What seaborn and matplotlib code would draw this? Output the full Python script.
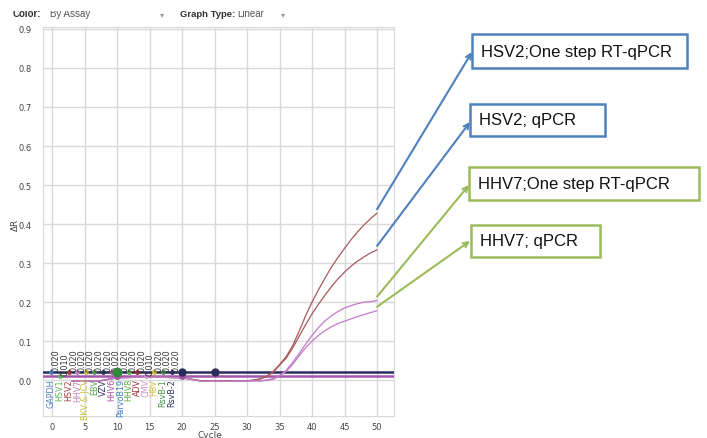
import numpy as np
import pandas as pd
import matplotlib
matplotlib.use('Agg')
import matplotlib.pyplot as plt
from matplotlib.patches import Rectangle
import seaborn as sns

# amplification curves (cycle, delta R)
cycles = [3, 7, 10, 15, 20, 23, 27, 30, 31, 32, 33, 34, 35, 36, 37, 38, 39, 40,
          41, 42, 43, 44, 45, 46, 47, 48, 49, 50]
hsv2_onestep = [-0.003, -0.003, 0.006, 0.008, 0.006, -0.002, -0.002, -0.002, 0.0, 0.003,
                0.01, 0.022, 0.04, 0.06, 0.088, 0.125, 0.165, 0.2,
                0.232, 0.262, 0.29, 0.315, 0.338, 0.36, 0.38, 0.398, 0.414, 0.428]
hsv2_qpcr = [-0.003, -0.003, 0.006, 0.008, 0.006, -0.002, -0.002, -0.002, 0.0, 0.003,
             0.009, 0.02, 0.038, 0.056, 0.082, 0.112, 0.142, 0.17,
             0.195, 0.218, 0.24, 0.26, 0.277, 0.292, 0.305, 0.316, 0.326, 0.334]
hhv7_onestep = [-0.003, -0.003, 0.006, 0.008, 0.006, -0.003, -0.003, -0.002, -0.002, -0.002,
                0.0, 0.004, 0.012, 0.025, 0.045, 0.068, 0.092, 0.115,
                0.135, 0.152, 0.165, 0.176, 0.185, 0.191, 0.196, 0.2, 0.201, 0.204]
hhv7_qpcr = [-0.003, -0.003, 0.006, 0.008, 0.006, -0.003, -0.003, -0.002, -0.002, -0.002,
             -0.001, 0.002, 0.01, 0.022, 0.04, 0.062, 0.083, 0.1,
             0.115, 0.127, 0.137, 0.145, 0.151, 0.157, 0.163, 0.168, 0.173, 0.178]
curve_names = ['HSV2;One step RT-qPCR', 'HSV2; qPCR', 'HHV7;One step RT-qPCR', 'HHV7; qPCR']
curve_colors = ['#a85a5a', '#a85a5a', '#c27ac8', '#c27ac8']
box_colors = ['#4f81bd', '#4f81bd', '#9bbb59', '#9bbb59']

# assay thresholds
assays = ['GAPDH', 'HSV1', 'HSV2', 'HHV7', 'BKV & JCV', 'EBV', 'VZV', 'HHV6',
          'ParvoB19', 'HHV8', 'ADV', 'CMV', 'HBV', 'RsvB-1', 'RsvB-2']
thresholds = [0.020, 0.010, 0.020, 0.020, 0.020, 0.020, 0.020, 0.020,
              0.020, 0.020, 0.020, 0.010, 0.020, 0.020, 0.020]
assay_colors = ['#4a7fc0', '#5cb85c', '#a04040', '#c080c0', '#c8c040', '#50a050',
                '#303060', '#b050a0', '#3a80c8', '#60b040', '#a03030', '#d090d0',
                '#d0c040', '#40904a', '#303068']
assay_pos = [-0.1, 1.25, 2.6, 3.9, 5.2, 6.5, 7.85, 9.15, 10.5, 11.8, 13.1, 14.4, 15.7, 17.05, 18.4]

df = pd.DataFrame({
    'Cycle': cycles * 4,
    'dR': hsv2_onestep + hsv2_qpcr + hhv7_onestep + hhv7_qpcr,
    'curve': sum([[n] * len(cycles) for n in curve_names], []),
})

sns.set_style('white')
plt.rcParams['font.family'] = ['DejaVu Sans']

W, H = 707, 439
fig = plt.figure(figsize=(W / 100, H / 100), dpi=100)
ax = fig.add_axes([43 / W, 1 - 417 / H, (394 - 43) / W, (417 - 28) / H])

# thresholds
ax.axhline(0.020, color='#2c2c5c', lw=1.8, zorder=3)
ax.axhline(0.010, color='#a456ac', lw=1.8, zorder=3)

sns.lineplot(data=df, x='Cycle', y='dR', hue='curve', palette=dict(zip(curve_names, curve_colors)),
             lw=0.9, legend=False, ax=ax, zorder=4)

for name, thr, col, xp in zip(assays, thresholds, assay_colors, assay_pos):
    ax.plot(xp, thr, marker='o', ms=2.5, color=col, zorder=5)
    ax.text(xp, 0.005, name, rotation=90, ha='center', va='top', fontsize=5.8, color=col, zorder=6)
    ax.text(xp + 0.7, thr + 0.004, f'{thr:.3f}', rotation=90, ha='center', va='bottom',
            fontsize=5.8, color='#333333', zorder=6)

ax.plot(10, 0.020, 'o', ms=6, color='#2e8b3a', zorder=6)
ax.plot([20, 25], [0.020, 0.020], 'o', ms=5, color='#2c2c5c', zorder=6)
ax.plot([10, 20], [0.010, 0.010], 'o', ms=4, color='#a456ac', zorder=5)

ax.set_xlim(-1.4, 52.6)
ax.set_ylim(-0.092, 0.905)
ax.set_xticks(range(0, 51, 5))
ax.set_yticks(np.arange(0, 0.95, 0.1))
ax.set_yticklabels([f'{v:.1f}' for v in np.arange(0, 0.95, 0.1)])
ax.grid(True, color='#d9d9d9', lw=1)
ax.set_axisbelow(True)
ax.tick_params(axis='x', length=0, pad=4, labelsize=6, labelcolor='#444444')
ax.tick_params(axis='y', length=5, color='#d9d9d9', pad=3, labelsize=6, labelcolor='#444444')
for s in ax.spines.values():
    s.set_color('#d9d9d9')
ax.set_xlabel('')
ax.set_ylabel('')

fig.text(15 / W, 1 - 225 / H, 'ΔR', rotation=90, ha='center', va='center', fontsize=6.3, color='#444444')
fig.text(210 / W, 1 - 431 / H, 'Cycle', ha='center', va='top', fontsize=6.5, color='#444444')

# header controls
hdr = ['Liberation Sans', 'DejaVu Sans']
fig.text(13 / W, 1 - 17 / H, 'Color:', fontsize=7, fontweight='bold', color='#333333', va='baseline', family=hdr)
fig.text(50 / W, 1 - 17 / H, 'By Assay', fontsize=7, color='#555555', va='baseline', family=hdr)
fig.text(160 / W, 1 - 17 / H, '▾', fontsize=6, color='#999999', va='baseline')
fig.text(180 / W, 1 - 17 / H, 'Graph Type:', fontsize=6.8, fontweight='bold', color='#333333', va='baseline', family=hdr)
fig.text(237 / W, 1 - 17 / H, 'Linear', fontsize=7, color='#555555', va='baseline', family=hdr)
fig.text(281 / W, 1 - 17 / H, '▾', fontsize=6, color='#999999', va='baseline')
fig.add_artist(Rectangle((0, 1 - 12 / H), 300 / W, 12 / H, transform=fig.transFigure,
                         facecolor='white', edgecolor='none', zorder=10))

# callout boxes (left, top, right, bottom in pixels)
boxes = [(472, 35, 687, 69), (470, 105, 605, 137), (469, 168, 699, 201), (471, 226, 600, 258)]
arrow_tips = [(472, 53), (470, 123), (469, 186), (470, 242)]
curve_ends = [hsv2_onestep[-1], hsv2_qpcr[-1], hhv7_onestep[-1], hhv7_qpcr[-1]]
for (l, t, r, b), (tx, ty), name, col, yend in zip(boxes, arrow_tips, curve_names, box_colors, curve_ends):
    fig.add_artist(Rectangle((l / W, 1 - b / H), (r - l) / W, (b - t) / H, transform=fig.transFigure,
                             facecolor='white', edgecolor=col, lw=1.8))
    fig.text((l + 9) / W, 1 - (t + b) / 2 / H, name, ha='left', va='center', fontsize=12,
             family=['Liberation Sans', 'DejaVu Sans'], color='#111111')
    ax.annotate('', xy=(tx, H - ty), xycoords='figure pixels',
                xytext=(cycles[-1], yend + 0.01), textcoords='data',
                arrowprops=dict(arrowstyle='->', color=col, lw=1.5, shrinkA=0, shrinkB=0,
                                mutation_scale=9),
                annotation_clip=False)

fig.savefig('out.png', dpi=100)
